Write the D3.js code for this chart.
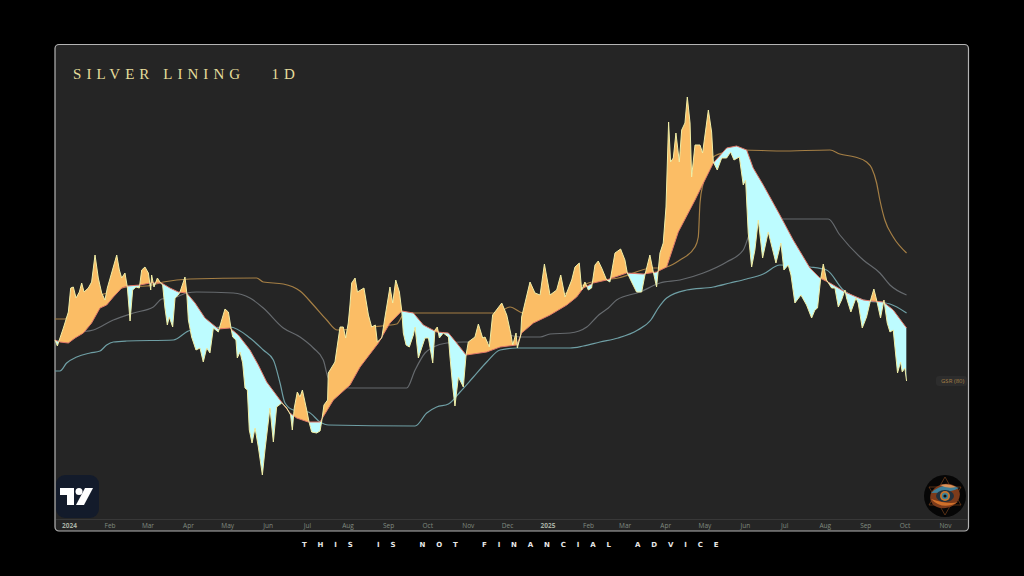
<!DOCTYPE html>
<html>
<head>
<meta charset="utf-8">
<script src="https://d3js.org/d3.v7.min.js"></script>
<style>
  html, body { margin: 0; padding: 0; background: #000; }
  svg { display: block; }
</style>
</head>
<body>
<svg width="1024" height="576"></svg>
<script>
// days are counted from 2024-01-01, values are read off the picture (no visible price scale)
const priceDays = [-10.7,-8.9,-7.4,-4.3,-0.5,1.3,3.3,5.4,7.9,9.7,11.5,14.8,17.3,19.9,22.4,25,27.5,29.3,32.6,36.5,38.5,40.3,42.8,44.6,46.7,48.7,51.2,53.8,55.6,58.1,60.7,62.5,63.2,65,67.6,70.1,71.6,73.4,75.2,76.7,79.3,81.1,83.6,84.9,88.7,90,91.3,93.8,97.1,100.2,102.7,105.3,107.8,110.4,114.2,116.8,119.3,121.9,123.9,125.2,127.7,128.7,130.8,132.8,134.6,136.4,137.9,140,142.3,144.8,147.9,149.9,153.7,156.3,158.8,162.7,166.5,169.5,170.8,172.3,174.6,176.7,178.5,181.8,183.6,185.6,189.4,192,193.2,195,197.8,198.3,203.4,207.3,209.8,211.6,213.6,214.9,216.2,218.8,220.6,225.6,229,231.5,234.3,235.8,239.2,241.7,245.5,247.6,249.9,252.7,254.5,255.7,257.8,260.3,263.4,264.7,267.2,272.3,274.9,278.2,279.9,281.7,283.3,286.3,290.2,291.4,293.5,295.2,297.8,301.6,303.7,305.4,310.5,313.1,316.4,318.2,321.5,324,331,334.8,337.8,339.4,341.9,342.9,345.5,346.2,352.6,356.4,360.3,363.6,367.9,373,376.1,379.4,384.5,387,390.3,392.1,394.6,397.2,399.7,402.3,404.8,407.4,411.2,413.7,417.6,421.9,425.2,427,430.3,434.1,438,440.5,444.3,446.9,449.4,452,454.5,456.6,458.6,460.1,462.2,464.2,466.8,468.6,471.1,472.9,475,476.2,478.8,482.6,484.6,489,491.5,492.8,495.8,499.2,503,506,508.6,512.7,515.7,517.5,519.5,522.1,524.6,527.2,530.5,534.8,540.7,544.5,546.8,550.1,552.2,555.2,559.8,564.1,568,570.5,572.5,574.8,576.9,579.4,583.3,585.8,588.4,590.9,593.5,594.7,598,601.9,603.6,606.7,610,613.1,615.6,617.7,620.7,623.3,625.8,627.9,630.4,633.7,636,637.3,639.3,640.6];
const priceVals = [160,154,160,172,188,212,213,202,208,217,208,212,218,245,222,207,200,212,227,245,230,222,227,213,179,210,213,212,230,233,227,210,225,213,222,217,215,192,175,183,173,202,205,208,223,208,180,163,150,152,138,152,147,172,168,180,191,188,172,163,160,142,148,137,112,110,70,57,72,53,25,50,92,58,93,97,92,85,70,92,108,103,110,90,78,68,67,69,78,95,100,127,138,173,173,162,177,195,217,222,208,212,185,173,175,158,162,183,213,197,220,208,189,167,155,153,165,173,142,162,162,137,170,173,162,167,163,143,113,94,123,113,145,158,163,176,162,163,153,185,197,185,167,155,167,152,165,183,218,207,205,236,205,210,225,203,220,233,237,210,218,210,212,235,239,232,220,218,247,251,240,227,218,208,208,225,245,228,213,247,257,293,378,338,342,367,338,370,377,403,377,323,355,355,347,390,368,338,330,342,342,348,340,343,315,320,267,233,250,280,242,268,237,257,230,235,225,197,205,195,182,190,192,220,236,220,212,212,193,200,210,202,188,202,197,172,183,200,211,200,182,200,177,168,170,127,138,128,132,119];

const basisDays = [-10.7,-6.9,-0.5,4.6,11,17.3,23.7,28.8,33.9,40.3,44.6,54.3,62,70.9,77.2,83.6,90,96.4,104,114.2,123.1,129.5,138.4,144.8,151.2,161.4,169,174.1,183,192,202.2,214.9,222.6,236.6,245.5,254.5,263.4,271,281.2,290.2,296.5,303.7,319.5,329.7,342.4,346.2,355.2,367.9,380.7,388.3,393.4,401,411.2,426.5,439.2,449.4,457.1,466,478.8,492.8,503,510.6,518.3,523.3,531,543.7,553.9,566.7,574.3,582,593.5,607.5,613.9,622.8,630.4,640.6];
const basisVals = [160,158,157,162,167,177,192,195,203,212,214,215,217,217,212,208,207,197,182,171,172,165,150,135,118,100,87,82,78,78,100,115,133,157,177,189,187,175,168,167,157,145,148,153,155,167,177,185,195,203,212,217,220,227,226,228,233,268,300,337,352,354,350,332,315,285,260,232,222,217,208,200,199,198,190,172];

const tealDays = [-10.7,-6.9,-1.8,5.9,16.1,23.7,28.8,33.9,44.1,79.8,91.3,97.6,123.1,138.4,148.6,156.3,161.4,165.2,171.6,183,192,198.3,264.7,273.6,281.2,290.2,299.1,309.3,319.5,329.7,342.4,383.2,393.4,406.1,420,435,445,450.7,457.1,472.4,492.8,505.5,518.2,531,543.7,566.7,579.4,592.2,607.5,627.9,640.6];
const tealVals = [129,129,137,143,147,149,155,158,159,160,169,171,173,162,150,140,117,97,90,88,78,75,74,87,93,96,108,123,138,150,152,152,154,158,162,170,180,192,202,210,213,217,221,226,235,233,230,210,200,196,187];

const greyDays = [-9.4,-1.8,4.6,18.6,33.9,49.2,64.5,70.9,82.3,90,97.6,125.7,138.4,148.6,163.9,176.7,186.9,194.5,198.3,204.7,214.9,258.3,264.7,272.3,278.7,288.9,301.6,324.6,334.8,345,360.3,367.9,383.2,396,403.6,406.1,412.5,418.8,436.7,452,467.3,485.1,503,515.7,520.8,528.5,538.6,580.7,589.6,607.5,620.2,627.9,640.6];
const greyVals = [158,163,167,170,180,187,193,201,203,207,208,207,202,192,172,163,152,140,122,115,112,112,130,147,153,157,158,158,165,163,163,166,167,173,183,186,192,200,208,217,220,227,238,250,267,278,281,281,265,240,227,215,205];

const bandDays = [-10.7,-3.1,0.8,11,28.8,44.6,59.4,72.1,92.5,143.5,148.6,163.9,176.7,186.9,197.1,205.3,230.2,250.6,255.7,262.1,327.1,337.3,347.5,352.6,400,420,446.9,452,457.1,467.3,478.8,481.3,482.6,485.1,492.8,503,515.7,543.8,582,589.6,601.1,610,613.9,617.7,620.2,624,630.4,640.6];
const bandVals = [181,181,187,197,207,213,214,218,221,222,218,216,209,195,180,170,173,176,185,187,187,193,187,189,218,222,232,232,233,240,253,263,297,317,343,348,350,349,350,346,343,338,332,317,300,280,263,247];

const tickDates = ["2024-01-01","2024-02-01","2024-03-01","2024-04-01","2024-05-01","2024-06-01","2024-07-01","2024-08-01","2024-09-01","2024-10-01","2024-11-01","2024-12-01","2025-01-01","2025-02-01","2025-03-01","2025-04-01","2025-05-01","2025-06-01","2025-07-01","2025-08-01","2025-09-01","2025-10-01","2025-11-01"];
const tickLabels = ["2024","Feb","Mar","Apr","May","Jun","Jul","Aug","Sep","Oct","Nov","Dec","2025","Feb","Mar","Apr","May","Jun","Jul","Aug","Sep","Oct","Nov"];

const day0 = Date.UTC(2024, 0, 1);
const toDate = d => new Date(day0 + d * 864e5);
const zip = (days, vals) => days.map((d, i) => ({ t: toDate(d), v: vals[i] }));

const price = zip(priceDays, priceVals);
const basis = zip(basisDays, basisVals);

const svg = d3.select("svg");

let x = d3.scaleUtc().domain([toDate(0), toDate(670)]).range([69, 945]);
let y = d3.scaleLinear().domain([0, 500]).range([500, 0]);

// panel
svg.append("rect")
  .attr("x", 55).attr("y", 44.5)
  .attr("width", 913.5).attr("height", 486.5)
  .attr("rx", 4)
  .attr("fill", "#252525")
  .attr("stroke", "#b4b4b4")
  .attr("stroke-width", 1.2);

svg.append("line")
  .attr("x1", 56).attr("x2", 968)
  .attr("y1", 519.5).attr("y2", 519.5)
  .attr("stroke", "#383838");

// clip regions either side of the basis line
const topEdge = 0, bottomEdge = 576;
const defs = svg.append("defs");
defs.append("clipPath").attr("id", "aboveBasis").append("path")
  .attr("d", d3.area().x(d => x(d.t)).y0(topEdge).y1(d => y(d.v))(basis));
defs.append("clipPath").attr("id", "belowBasis").append("path")
  .attr("d", d3.area().x(d => x(d.t)).y0(bottomEdge).y1(d => y(d.v))(basis));

// thin bands sit under the fills
const bandLine = d3.line().x(d => x(d.t)).y(d => y(d.v)).curve(d3.curveMonotoneX);
[
  [bandDays, bandVals, "#a57f45"],
  [greyDays, greyVals, "#666a6e"],
  [tealDays, tealVals, "#6f9fa5"]
].forEach(([days, vals, colour]) => {
  svg.append("path")
    .attr("d", bandLine(zip(days, vals)))
    .attr("fill", "none")
    .attr("stroke", colour)
    .attr("stroke-width", 1.2);
});

// price above basis is orange, below is cyan
svg.append("path")
  .attr("d", d3.area().x(d => x(d.t)).y0(bottomEdge).y1(d => y(d.v))(price))
  .attr("fill", "#fbbd65")
  .attr("clip-path", "url(#aboveBasis)");
svg.append("path")
  .attr("d", d3.area().x(d => x(d.t)).y0(topEdge).y1(d => y(d.v))(price))
  .attr("fill", "#bdfcff")
  .attr("clip-path", "url(#belowBasis)");

const valueLine = d3.line().x(d => x(d.t)).y(d => y(d.v));
svg.append("path")
  .attr("d", valueLine(basis))
  .attr("fill", "none")
  .attr("stroke", "#e0786a")
  .attr("stroke-width", 1);
svg.append("path")
  .attr("d", valueLine(price))
  .attr("fill", "none")
  .attr("stroke", "#f1eea6")
  .attr("stroke-width", 1);

// time axis
let xAxis = d3.axisBottom(x)
  .tickValues(tickDates.map(d => new Date(d + "T00:00:00Z")))
  .tickSize(0)
  .tickPadding(0)
  .tickFormat((d, i) => tickLabels[i]);

const axisG = svg.append("g")
  .attr("transform", "translate(0, 520)")
  .call(xAxis);
axisG.select(".domain").remove();
axisG.selectAll("text")
  .attr("dy", "0.71em")
  .attr("y", 3)
  .style("font-family", "'Open Sans', sans-serif")
  .style("font-size", "6.5px")
  .style("fill", "#808b80")
  .filter((d, i) => tickLabels[i].length == 4)
  .style("font-weight", "bold")
  .style("fill", "#a8b0a4");

// title and footer
svg.append("text")
  .attr("x", 73).attr("y", 79)
  .attr("xml:space", "preserve")
  .style("font-family", "'Liberation Serif', serif")
  .style("font-size", "15px")
  .style("letter-spacing", "5.05px")
  .style("fill", "#e6dd9c")
  .text("SILVER LINING   1D");

svg.append("text")
  .attr("x", 302).attr("y", 547)
  .attr("xml:space", "preserve")
  .style("font-family", "'DejaVu Sans', sans-serif")
  .style("font-size", "7px")
  .style("font-weight", "bold")
  .style("letter-spacing", "10.85px")
  .style("fill", "#e8e8e8")
  .text("THIS IS NOT FINANCIAL ADVICE");

// scale tag
svg.append("rect")
  .attr("x", 936).attr("y", 376)
  .attr("width", 31).attr("height", 10)
  .attr("rx", 3)
  .attr("fill", "#2d2d2d");
svg.append("text")
  .attr("x", 941).attr("y", 383.2)
  .style("font-family", "'Open Sans', sans-serif")
  .style("font-size", "6px")
  .style("fill", "#a57f45")
  .text("GSR (80)");

// TradingView badge
svg.append("rect")
  .attr("x", 56).attr("y", 475)
  .attr("width", 43).attr("height", 43)
  .attr("rx", 9)
  .attr("fill", "#131b2b");
const logo = svg.append("g").attr("transform", "translate(60, 488)").attr("fill", "#fff");
logo.append("path").attr("d", "M0 0H14V17H7V7H0Z");
logo.append("circle").attr("cx", 19).attr("cy", 3.5).attr("r", 3.5);
logo.append("path").attr("d", "M25 0H33L24 17H16Z");

// eye emblem
const eye = svg.append("g").attr("transform", "translate(945, 496)");
eye.append("circle").attr("r", 21).attr("fill", "#060606");
eye.append("path")
  .attr("d", "M0 -19L16 9H-16Z M0 19L-16 -9H16Z")
  .attr("fill", "none")
  .attr("stroke", "#8a4a20")
  .attr("stroke-width", 0.6);
eye.append("ellipse").attr("rx", 15).attr("ry", 12).attr("transform", "rotate(-15)").attr("fill", "#7c3b1b");
eye.append("path").attr("d", "M-14 -3Q-2 -15 14 -8Q6 -3 -14 -3Z").attr("fill", "#3f7f98");
eye.append("path").attr("d", "M-5 -11Q4 -13 11 -9Q2 -7 -5 -11Z").attr("fill", "#d9935a");
eye.append("path").attr("d", "M-14 3Q-2 15 13 6Q4 9 -14 3Z").attr("fill", "#d0702a");
eye.append("ellipse").attr("rx", 9).attr("ry", 6).attr("fill", "#22303c");
eye.append("circle").attr("r", 5).attr("fill", "#c9772e");
eye.append("circle").attr("r", 3.2).attr("fill", "#3f8398");
eye.append("circle").attr("r", 1.6).attr("fill", "#111");
</script>
</body>
</html>
